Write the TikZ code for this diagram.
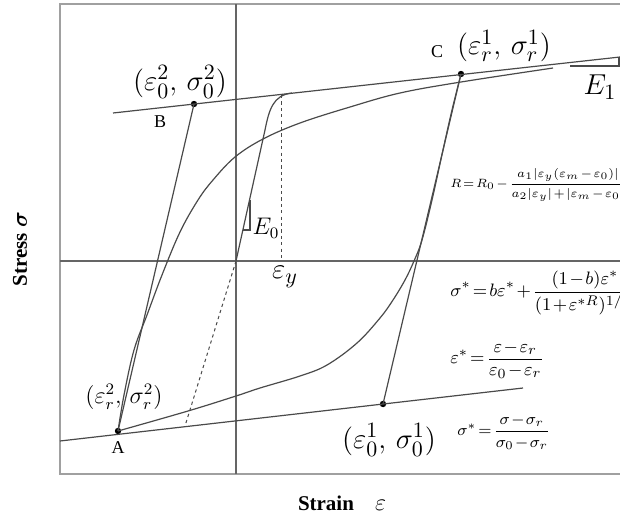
\documentclass[tikz,border=0pt]{standalone}
\usepackage{amsmath}
\usepackage{fontspec}
\setmainfont{Liberation Serif}
\usetikzlibrary{positioning}
\definecolor{curvegray}{HTML}{4A4A4A}
\definecolor{framegray}{HTML}{A0A0A0}
\newcommand{\tightmath}{\thickmuskip=2mu\medmuskip=1.5mu\thinmuskip=1mu}
\tikzset{
  curve/.style={curvegray, line width=0.6pt},
  frame/.style={framegray, line width=1.1pt},
  axis/.style={curvegray!85, line width=0.6pt},
  guide/.style={curvegray, line width=0.5pt, dash pattern=on 1.6pt off 1.6pt},
  dot/.style={circle, fill=black, inner sep=0pt, minimum size=3.2pt},
  pointlabel/.style={font=\fontsize{15}{17}\selectfont, inner sep=1pt},
  smalllabel/.style={font=\fontsize{11.5}{13}\selectfont, inner sep=1pt},
  letter/.style={font=\fontsize{9}{10}\selectfont, inner sep=0.5pt},
  formula/.style={anchor=west, inner sep=0pt},
  axislabel/.style={font=\bfseries\fontsize{10.5}{12}\selectfont},
}
\begin{document}
\begin{tikzpicture}[x=0.5pt, y=-0.5pt]
    \useasboundingbox (0,0) rectangle (620,520);
    % frame and axes
    \draw[frame] (620,4) -- (60,4) -- (60,474) -- (620,474);
    \draw[axis] (236,4) -- (236,474);
    \draw[axis] (60,261) -- (620,261);

    % key points
    \coordinate (O) at (236,261);
    \node[dot] (A) at (118,431) {};
    \node[dot] (B) at (194,104) {};
    \node[dot] (C) at (461,74) {};
    \node[dot] (D) at (383,404) {};
    \coordinate (up1) at (113,113);
    \coordinate (up2) at (620,57);
    \coordinate (lo1) at (60,441);
    \coordinate (lo2) at (523,388);

    % asymptotes (slope E1)
    \draw[curve] (up1) -- (up2);
    \draw[curve] (lo1) -- (lo2);

    % unloading lines
    \draw[curve] (A.center) -- (B.center);
    \draw[curve] (D.center) -- (C.center);

    % monotonic envelope
    \draw[curve] (O) -- (265,130) .. controls (269,110) and (273,95) .. (292,93);
    \draw[guide] (O) -- (185,426);
    \draw[guide] (281,95) -- (281,261);

    % branches of the loop
    \draw[curve] plot[smooth, tension=0.6] coordinates {(A.center) (124,395) (134,350) (147,315)
      (162,275) (180,232) (198,200) (213,180) (235,157) (263,139) (300,123) (350,107)
      (400,93) (461,82) (553,68)};
    \draw[curve] plot[smooth, tension=0.6] coordinates {(A.center) (188,411) (236,396) (260,388)
      (300,376) (327,365) (357,343) (380,318) (393,300) (405,280) (414,261) (422,240)
      (432,200) (443,150) (452,110) (C.center)};

    % slope triangles
    \draw[curve] (242.6,230) -- (250,230) -- (250,200);
    \draw[curve] (570,66) -- (619,66) -- (619,57);

    % point labels
    \node[letter, below=3pt of A] (Alab) {A};
    \node[letter] (Blab) at (160,122) {B};
    \node[letter] (Clab) at (437,52) {C};
    \node[pointlabel] (Bval) at (180,82) {$(\varepsilon_0^2,\,\sigma_0^2)$};
    \node[smalllabel] (Aval) at (124,397) {$(\varepsilon_r^2,\,\sigma_r^2)$};
    \node[pointlabel] (Dval) at (389,440) {$(\varepsilon_0^1,\,\sigma_0^1)$};
    \node[pointlabel] (Cval) at (504,46) {$(\varepsilon_r^1,\,\sigma_r^1)$};
    \node[smalllabel] (E0) at (266,228) {$E_0$};
    \node[pointlabel] (epsy) at (285,277) {$\varepsilon_y$};
    \node[pointlabel] (E1) at (600,87) {$E_1$};

    % model equations
    \node[formula, font=\fontsize{6}{7.5}\selectfont] (eqR) at (450,185)
      {$\tightmath R = R_0 - \dfrac{a_1\lvert\varepsilon_y(\varepsilon_m - \varepsilon_0)\rvert}{a_2\lvert\varepsilon_y\rvert + \lvert\varepsilon_m - \varepsilon_0\rvert}$};
    \node[formula, font=\fontsize{9.3}{11}\selectfont] (eqS) at (450,293)
      {$\tightmath \sigma^* = b\varepsilon^* + \dfrac{(1-b)\varepsilon^*}{(1+\varepsilon^{*R})^{1/R}}$};
    \node[formula, font=\fontsize{9.5}{11}\selectfont] (eqE) at (450,360)
      {$\tightmath \varepsilon^* = \dfrac{\varepsilon - \varepsilon_r}{\varepsilon_0 - \varepsilon_r}$};
    \node[formula, font=\fontsize{8.5}{10}\selectfont] (eqN) at (457,432)
      {$\tightmath \sigma^* = \dfrac{\sigma - \sigma_r}{\sigma_0 - \sigma_r}$};

    % axis titles
    \node[axislabel, rotate=90] (ylab) at (20,249) {Stress $\boldsymbol{\sigma}$};
    \node[axislabel] (xlab) at (342,503) {Strain\quad\normalfont\large$\varepsilon$};
\end{tikzpicture}
\end{document}
